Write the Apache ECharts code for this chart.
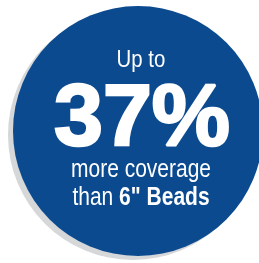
<!DOCTYPE html>
<html>
<head>
<meta charset="utf-8">
<script src="https://cdn.jsdelivr.net/npm/echarts@6/dist/echarts.min.js"></script>
<style>
  html, body { margin: 0; padding: 0; background: #fff; }
  #chart { width: 259px; height: 263px; }
</style>
</head>
<body>
<div id="chart"></div>
<script>
// badge content
const circleValue = [100]
const headLine = ['Up to']
const bigValue = ['37%']
const subLines = ['more coverage', 'than ']
const boldTail = ['6" Beads']

const sans = '"Liberation Sans", Arial, sans-serif'

let option = {
  animation: false,
  series: [
    {
      type: 'pie',
      silent: true,
      center: [133, 135],
      radius: [0, 125],
      label: { show: false },
      itemStyle: { color: '#d5d7d9' },
      data: circleValue
    },
    {
      type: 'pie',
      silent: true,
      center: [138, 131],
      radius: [0, 125],
      label: { show: false },
      itemStyle: { color: '#0b4a8f' },
      data: circleValue
    }
  ],
  graphic: {
    elements: [
      {
        type: 'text', x: 141, y: 48, z: 100, scaleX: 0.85,
        style: { text: headLine[0], fill: '#fff', font: '24px ' + sans, align: 'center', verticalAlign: 'top' }
      },
      {
        type: 'text', x: 142, y: 77, z: 100,
        style: {
          text: bigValue[0], fill: '#fff', font: 'bold 88px ' + sans,
          stroke: '#fff', lineWidth: 2.5, align: 'center', verticalAlign: 'top'
        }
      },
      {
        type: 'text', x: 141, y: 158, z: 100, scaleX: 0.84,
        style: { text: subLines[0], fill: '#fff', font: '25px ' + sans, align: 'center', verticalAlign: 'top' }
      },
      {
        type: 'text', x: 141, y: 186, z: 100, scaleX: 0.84,
        style: {
          text: '{n|' + subLines[1] + '}{b|' + boldTail[0] + '}',
          align: 'center', verticalAlign: 'top',
          rich: {
            n: { fill: '#fff', fontSize: 25, fontFamily: sans },
            b: { fill: '#fff', fontSize: 25, fontWeight: 'bold', fontFamily: sans }
          }
        }
      }
    ]
  }
}

var myChart = echarts.init(document.getElementById('chart'), null, { renderer: 'canvas' })
myChart.setOption(option, true)
</script>
</body>
</html>
